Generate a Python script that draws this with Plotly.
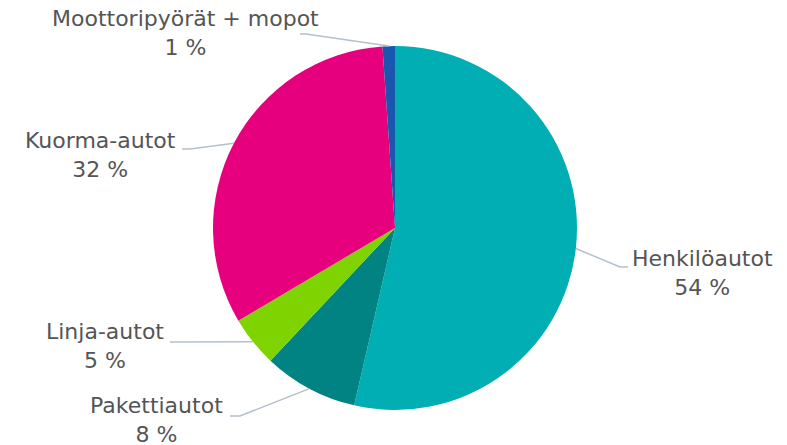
import math
import plotly.graph_objects as go

# ---- data ----
categories = ["Henkilöautot", "Pakettiautot", "Linja-autot", "Kuorma-autot", "Moottoripyörät + mopot"]
values = [53.6, 8.4, 4.5, 32.4, 1.1]
pct_labels = ["54 %", "8 %", "5 %", "32 %", "1 %"]
colors = ["#00AEB3", "#008382", "#7FD300", "#E6007E", "#1A55AE"]

# ---- layout (pixels) ----
W, H = 787, 445
CX, CY, R = 395, 228, 182
# label block centre (x, y) and leader elbow/end points
label_pos = [(702, 273), (156, 420), (105, 346), (100, 155), (185, 33)]
elbows = [[(620, 267), (628, 267)],
          [(240, 416), (230, 416)],
          [(178, 342), (170, 342)],
          [(190, 149), (182, 149)],
          [(306, 34), (300, 34)]]

fig = go.Figure()
fig.add_trace(go.Pie(
    labels=categories, values=values, sort=False, direction="clockwise", rotation=0,
    marker=dict(colors=colors, line=dict(width=0)), textinfo="none", hoverinfo="label+percent",
    showlegend=False,
    domain=dict(x=[(CX - R) / W, (CX + R) / W], y=[(H - CY - R) / H, (H - CY + R) / H]),
))

total = sum(values)
cum = 0
shapes = []
annotations = []
for i, v in enumerate(values):
    mid = (cum + v / 2) / total * 2 * math.pi
    cum += v
    ax = CX + R * math.sin(mid)
    ay = CY - R * math.cos(mid)
    pts = [(ax, ay)] + elbows[i]
    path = "M " + " L ".join(f"{x},{y}" for x, y in pts)
    shapes.append(dict(type="path", xref="x", yref="y", path=path,
                       line=dict(color="#B4C0CC", width=1.5)))
    lx, ly = label_pos[i]
    annotations.append(dict(x=lx, y=ly, xref="x", yref="y", showarrow=False,
                            text=f"{categories[i]}<br>{pct_labels[i]}", align="center",
                            xanchor="center", yanchor="middle",
                            font=dict(family="DejaVu Sans", size=22, color="#555555")))

fig.update_layout(
    width=W, height=H, margin=dict(l=0, r=0, t=0, b=0),
    paper_bgcolor="white", plot_bgcolor="rgba(0,0,0,0)",
    xaxis=dict(range=[0, W], visible=False, fixedrange=True),
    yaxis=dict(range=[H, 0], visible=False, fixedrange=True),
    shapes=shapes, annotations=annotations,
)
fig.write_html("out.html", config={"displayModeBar": False},
               post_script="document.body.style.margin='0';document.body.style.overflow='hidden';")
